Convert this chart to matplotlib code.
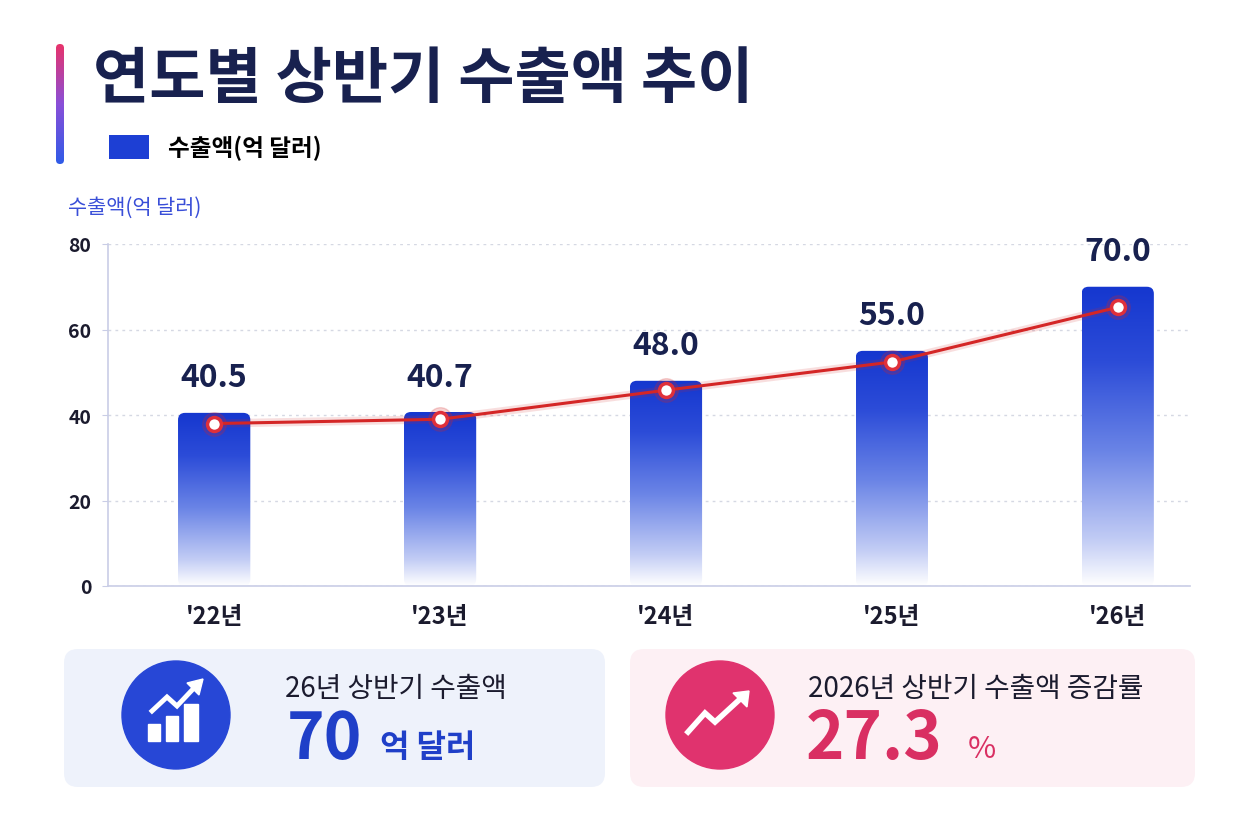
import numpy as np
import matplotlib
matplotlib.use("Agg")
import matplotlib.pyplot as plt
from matplotlib.colors import LinearSegmentedColormap
from matplotlib.patches import FancyBboxPatch, Circle, Rectangle, Polygon, Patch

plt.rcParams['font.family'] = ['Noto Sans CJK KR', 'DejaVu Sans']

# 데이터
years = ["'22년", "'23년", "'24년", "'25년", "'26년"]
export_vals = [40.5, 40.7, 48.0, 55.0, 70.0]      # 막대 (억 달러)
trend_vals = [38.0, 39.0, 45.8, 52.4, 65.2]       # 빨간 추세선
y_ticks = [0, 20, 40, 60, 80]
card_amount = "70"
card_rate = "27.3"

W, H = 1236, 828
fig = plt.figure(figsize=(W / 100, H / 100), dpi=100)
fig.patch.set_facecolor('white')

# 장식용 축 (픽셀 좌표)
deco = fig.add_axes([0, 0, 1, 1], zorder=0)
deco.set_xlim(0, W)
deco.set_ylim(H, 0)
deco.axis('off')

navy = '#18214f'
red = '#d42626'
pink = '#d92f62'

# 왼쪽 세로 그라데이션 막대
stripe_cmap = LinearSegmentedColormap.from_list('stripe', ['#e8336b', '#8a4fd8', '#2f5be8'])
grad = np.linspace(0, 1, 256).reshape(-1, 1)
im = deco.imshow(grad, cmap=stripe_cmap, extent=[56, 64, 165, 45], origin='upper', aspect='auto')
clip = FancyBboxPatch((56, 45), 8, 120, boxstyle='round,pad=0,rounding_size=4',
                      transform=deco.transData)
im.set_clip_path(clip)

# 제목
deco.text(93, 80, '연도별 상반기 수출액 추이', fontsize=44, fontweight='bold',
          color=navy, va='center', ha='left')

# 범례
deco.legend(handles=[Patch(facecolor='#1d3fd4', label='수출액(억 달러)')],
            loc='center left', bbox_to_anchor=(88 / W, 1 - 148 / H),
            bbox_transform=fig.transFigure, frameon=False,
            handlelength=1.7, handleheight=1.2, handletextpad=0.8,
            prop={'size': 17, 'weight': 'bold'})

# y축 제목
deco.text(68, 208, '수출액(억 달러)', fontsize=15, color='#3a4fd8', va='center', ha='left')

# 메인 차트
ax_left, ax_right, ax_top, ax_bottom = 108, 1190, 245, 587
ax = fig.add_axes([ax_left / W, 1 - ax_bottom / H, (ax_right - ax_left) / W,
                   (ax_bottom - ax_top) / H], zorder=1)
ax.patch.set_alpha(0)

x = np.arange(len(years))
bar_w = 0.32
xlim = (-0.47, 4.32)
ylim = (0, 80)

bars = ax.bar(x, export_vals, width=bar_w, color='none', edgecolor='none', zorder=2)

px_per_x = (ax_right - ax_left) / (xlim[1] - xlim[0])
px_per_y = (ax_bottom - ax_top) / (ylim[1] - ylim[0])
bar_cmap = LinearSegmentedColormap.from_list(
    'bar', [(0, '#ffffff'), (0.15, '#c3cdf5'), (0.45, '#6a84e6'),
            (0.75, '#2c4cd8'), (1, '#1537cf')])
r = 7 / px_per_x
for b in bars:
    bx, bw, bh = b.get_x(), b.get_width(), b.get_height()
    g = ax.imshow(grad, cmap=bar_cmap, extent=[bx, bx + bw, 0, bh], origin='lower',
                  aspect='auto', zorder=2)
    p = FancyBboxPatch((bx, 0), bw, bh, boxstyle=f'round,pad=0,rounding_size={r}',
                       mutation_aspect=px_per_x / px_per_y, transform=ax.transData)
    g.set_clip_path(p)

# 추세선
ax.plot(x, trend_vals, color=red, lw=6, alpha=0.15, zorder=3, solid_capstyle='round')
ax.plot(x, trend_vals, color=red, lw=2.2, zorder=4)
ax.plot(x, trend_vals, 'o', ms=17, color=red, alpha=0.2, zorder=5)
ax.plot(x, trend_vals, 'o', ms=10, mfc='white', mec='#e0303a', mew=2.5, zorder=6)

# 값 레이블
for xi, v in zip(x, export_vals):
    ax.annotate(f'{v:.1f}', (xi, v), xytext=(0, 14), textcoords='offset points',
                ha='center', va='bottom', fontsize=23, fontweight='bold', color=navy)

ax.set_xlim(*xlim)
ax.set_ylim(*ylim)
ax.set_yticks(y_ticks)
ax.set_xticks(x)
ax.set_xticklabels(years)
ax.grid(axis='y', linestyle=(0, (2, 3)), color='#d5d8e3', lw=1)
ax.set_axisbelow(True)
for s in ['top', 'right']:
    ax.spines[s].set_visible(False)
for s in ['left', 'bottom']:
    ax.spines[s].set_color('#c9cde6')
    ax.spines[s].set_linewidth(1.2)
ax.tick_params(axis='y', length=4, color='#c9cde6', pad=8, labelsize=14, labelcolor='#1b1b2e')
ax.tick_params(axis='x', length=0, pad=13, labelsize=17, labelcolor='#1b1b2e')
for lab in ax.get_xticklabels() + ax.get_yticklabels():
    lab.set_fontweight('bold')

# 하단 카드
deco.add_patch(FancyBboxPatch((64, 650), 541, 138, boxstyle='round,pad=0,rounding_size=14',
                              fc='#eef2fb', ec='none'))
deco.add_patch(FancyBboxPatch((630, 650), 565, 138, boxstyle='round,pad=0,rounding_size=14',
                              fc='#fdf0f4', ec='none'))

# 왼쪽 아이콘
deco.add_patch(Circle((176, 716), 54, color='#2747d6'))
for rx, ry, rw, rh in [(148, 725, 12, 17), (166, 717, 12, 25), (184, 705, 14, 37)]:
    deco.add_patch(Rectangle((rx, ry), rw, rh, color='white'))
deco.plot([152, 167, 177, 194], [712, 698, 707, 689], color='white', lw=3.5,
          solid_joinstyle='miter')
deco.add_patch(Polygon([(203, 680), (187, 684), (199, 696)], color='white'))

# 오른쪽 아이콘
deco.add_patch(Circle((720, 716), 54, color='#e0336e'))
deco.plot([688, 705, 715, 739], [733, 714, 723, 701], color='white', lw=4,
          solid_joinstyle='miter')
deco.add_patch(Polygon([(749, 692), (733, 694), (747, 708)], color='white'))

# 카드 텍스트
deco.text(285, 689, '26년 상반기 수출액', fontsize=20, fontweight='medium',
          color='#1b1b2e', va='center')
deco.text(287, 740, card_amount, fontsize=46, fontweight='bold', color='#1f3fc8', va='center')
deco.text(380, 748, '억 달러', fontsize=23, fontweight='bold', color='#1f3fc8', va='center')
deco.text(808, 689, '2026년 상반기 수출액 증감률', fontsize=20, fontweight='medium',
          color='#1b1b2e', va='center')
deco.text(806, 740, card_rate, fontsize=47, fontweight='bold', color=pink, va='center')
deco.text(968, 750, '%', fontsize=22, color=pink, va='center')

fig.savefig('out.png', dpi=100)
